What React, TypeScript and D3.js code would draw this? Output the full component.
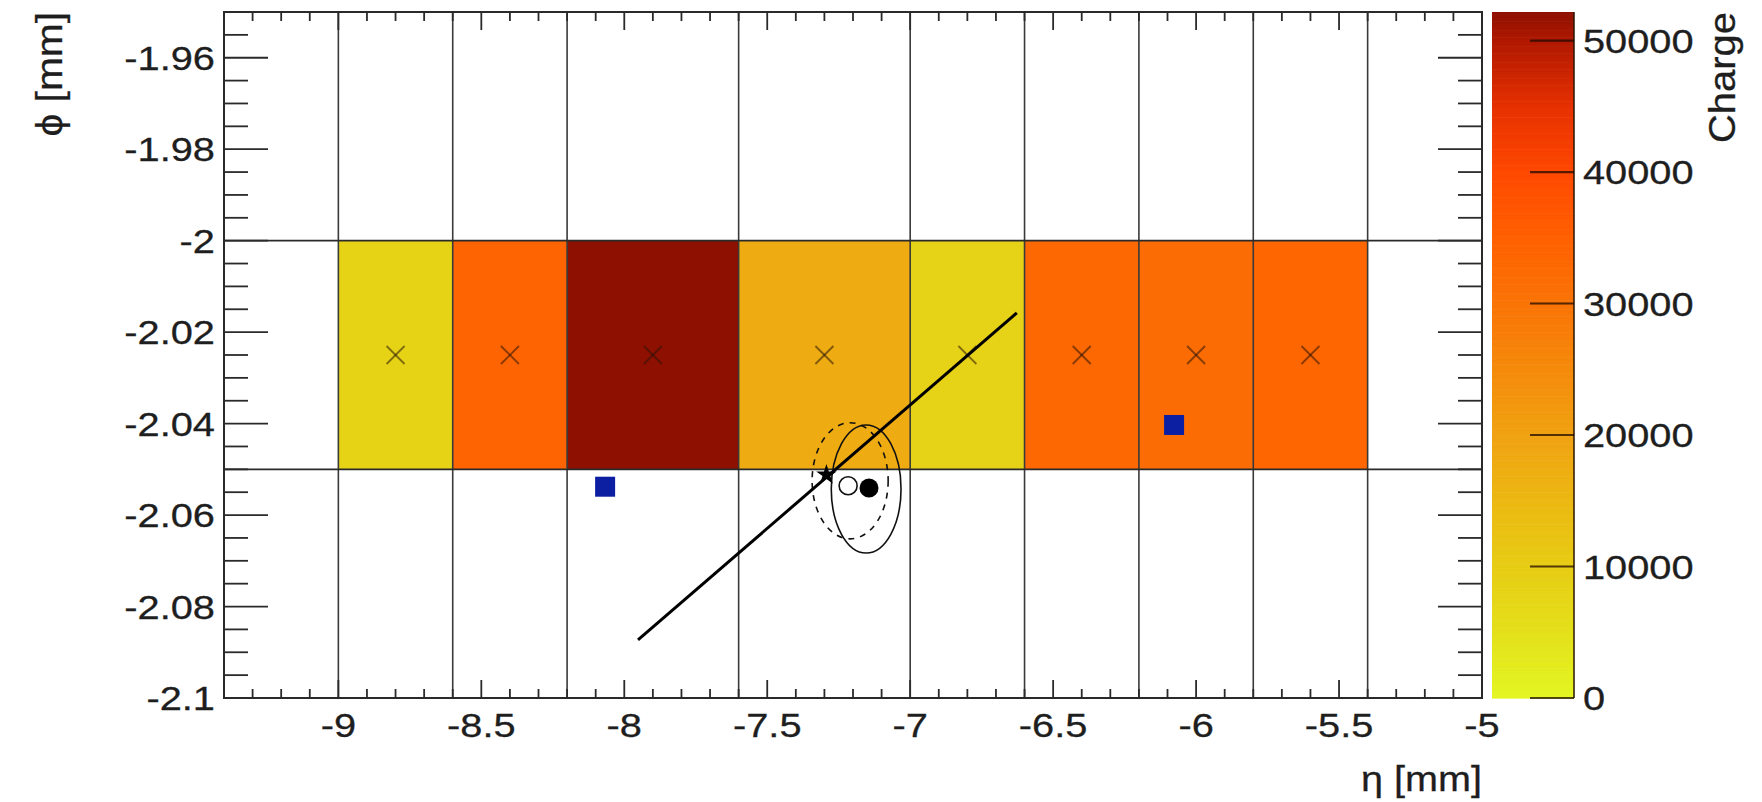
import React from "react";
import * as d3 from "d3";

// Pad boundaries along eta and phi (mm)
const etaEdges = [-9, -8.6, -8.2, -7.6, -7.0, -6.6, -6.2, -5.8, -5.4];
const phiRow = [-2.05, -2.0];
// Charge collected on each pad of the row
const charges = [8200, 34000, 52170, 18000, 8600, 33000, 32000, 33500];

// Reconstructed track segment
const trackEta = [-7.952, -6.627];
const trackPhi = [-2.0873, -2.0158];
// Track crossing point
const crossing = { eta: -7.293, phi: -2.0512 };
// Cluster position estimates with their uncertainty ellipses
const hollowPoint = { eta: -7.217, phi: -2.0536 };
const filledPoint = { eta: -7.144, phi: -2.0541 };
const dashedEllipse = { eta: -7.21, phi: -2.0525, rEta: 0.133, rPhi: 0.0127 };
const solidEllipse = { eta: -7.154, phi: -2.0543, rEta: 0.122, rPhi: 0.014 };
// Neighbouring hits
const blueHits = [
  { eta: -8.067, phi: -2.0538 },
  { eta: -6.077, phi: -2.0403 },
];

const xTickLabels = ["-9", "-8.5", "-8", "-7.5", "-7", "-6.5", "-6", "-5.5", "-5"];
const yTickLabels = ["-2.1", "-2.08", "-2.06", "-2.04", "-2.02", "-2", "-1.98", "-1.96"];
const zTickLabels = ["0", "10000", "20000", "30000", "40000", "50000"];

// Palette stops (charge -> colour)
const paletteCharge = [0, 5000, 10000, 15000, 20000, 25000, 30000, 35000, 40000, 45000, 50000, 52170];
const paletteColor = [
  "#e3f622", "#e4e01a", "#e7cc14", "#ecb812", "#f0a212", "#f58a0a",
  "#fa7406", "#ff6000", "#ff4800", "#e63000", "#b01800", "#8e1000",
];

const W = 1762;
const H = 802;
const frame = { left: 224, right: 1482, top: 12, bottom: 698 };
const bar = { left: 1492, right: 1574 };
const FONT = "'Liberation Sans', Arial, Helvetica, sans-serif";
const SX = 1.17;
const AX = "#2a2a2a";

function Label(props: {
  x: number; y: number; size: number; anchor?: string; rotate?: number; sx?: number; children: React.ReactNode;
}) {
  const { x, y, size, anchor = "middle", rotate = 0, sx = SX, children } = props;
  return (
    <text
      transform={`translate(${x},${y}) rotate(${rotate}) scale(${sx},1)`}
      textAnchor={anchor}
      fontFamily={FONT}
      fontSize={size}
      fill="#1e1e1e"
      stroke="#1e1e1e"
      strokeWidth={0.3}
    >
      {children}
    </text>
  );
}

export default function App() {
  const x = d3.scaleLinear().domain([-9.4, -5]).range([frame.left, frame.right]);
  const y = d3.scaleLinear().domain([-2.1, -1.95]).range([frame.bottom, frame.top]);
  const cmax = d3.max(charges) as number;
  const z = d3.scaleLinear().domain([0, cmax]).range([frame.bottom, frame.top]);
  const color = d3.scaleLinear<string>().domain(paletteCharge).range(paletteColor).interpolate(d3.interpolateRgb).clamp(true);

  const cells = charges.map((c, i) => ({ x0: etaEdges[i], x1: etaEdges[i + 1], c }));

  const xMinor = d3.range(-94, -49, 1).map((v) => v / 10);
  const xMajor = xTickLabels.map(Number);
  const yMinor = d3.range(-420, -389, 1).map((v) => v / 200);
  const yMajor = yTickLabels.map(Number);
  const zMajor = zTickLabels.map(Number);

  // colour bar bands
  const nBands = 300;
  const bands = d3.range(nBands).map((i) => ({
    v0: (i / nBands) * cmax,
    v1: ((i + 1) / nBands) * cmax,
  }));

  const line = d3.line<[number, number]>().x((d) => x(d[0])).y((d) => y(d[1]));
  const trackPts: [number, number][] = trackEta.map((e, i) => [e, trackPhi[i]]);
  const star = d3.symbol().type(d3.symbolStar).size(130)();
  const ymid = (phiRow[0] + phiRow[1]) / 2;

  return (
    <svg width={W} height={H} style={{ position: "absolute", left: 0, top: 0, background: "#fff" }}>
      <rect x={0} y={0} width={W} height={H} fill="#fff" />

      {/* pads */}
      {cells.map((d, i) => (
        <rect
          key={i}
          x={x(d.x0)}
          y={y(phiRow[1])}
          width={x(d.x1) - x(d.x0)}
          height={y(phiRow[0]) - y(phiRow[1])}
          fill={color(d.c)}
        />
      ))}

      {/* pad grid */}
      {etaEdges.map((e, i) => (
        <line key={i} x1={x(e)} x2={x(e)} y1={frame.top} y2={frame.bottom} stroke="#3a3a3a" strokeWidth={1.6} />
      ))}
      {phiRow.map((p, i) => (
        <line key={i} x1={frame.left} x2={frame.right} y1={y(p)} y2={y(p)} stroke="#2a2a2a" strokeWidth={1.8} />
      ))}

      {/* pad centre markers */}
      {cells.map((d, i) => {
        const cx = x((d.x0 + d.x1) / 2);
        const cy = y(ymid);
        const s = 9;
        return (
          <g key={i} stroke="rgba(40,20,10,0.55)" strokeWidth={1.8}>
            <line x1={cx - s} y1={cy - s} x2={cx + s} y2={cy + s} />
            <line x1={cx - s} y1={cy + s} x2={cx + s} y2={cy - s} />
          </g>
        );
      })}

      {/* neighbouring hits */}
      {blueHits.map((h, i) => (
        <rect key={i} x={x(h.eta) - 10} y={y(h.phi) - 10} width={20} height={20} fill="#0c1fa3" />
      ))}

      {/* uncertainty ellipses */}
      <ellipse
        cx={x(dashedEllipse.eta)}
        cy={y(dashedEllipse.phi)}
        rx={x(dashedEllipse.eta + dashedEllipse.rEta) - x(dashedEllipse.eta)}
        ry={y(dashedEllipse.phi) - y(dashedEllipse.phi + dashedEllipse.rPhi)}
        fill="none"
        stroke="#111"
        strokeWidth={1.6}
        strokeDasharray="6,6"
      />
      <ellipse
        cx={x(solidEllipse.eta)}
        cy={y(solidEllipse.phi)}
        rx={x(solidEllipse.eta + solidEllipse.rEta) - x(solidEllipse.eta)}
        ry={y(solidEllipse.phi) - y(solidEllipse.phi + solidEllipse.rPhi)}
        fill="none"
        stroke="#111"
        strokeWidth={1.6}
      />

      {/* track */}
      <path d={line(trackPts) || ""} fill="none" stroke="#000" strokeWidth={3} />
      <path d={star || ""} transform={`translate(${x(crossing.eta)},${y(crossing.phi)})`} fill="#000" />
      <circle cx={x(hollowPoint.eta)} cy={y(hollowPoint.phi)} r={9} fill="#fff" stroke="#111" strokeWidth={1.6} />
      <circle cx={x(filledPoint.eta)} cy={y(filledPoint.phi)} r={9.5} fill="#000" />

      {/* frame */}
      <rect
        x={frame.left}
        y={frame.top}
        width={frame.right - frame.left}
        height={frame.bottom - frame.top}
        fill="none"
        stroke={AX}
        strokeWidth={2}
      />

      {/* x ticks (bottom and top) */}
      {xMinor.map((v, i) => {
        const major = xMajor.some((m) => Math.abs(m - v) < 1e-6);
        const len = major ? 18 : 9;
        return (
          <g key={i} stroke={AX} strokeWidth={1.8}>
            <line x1={x(v)} x2={x(v)} y1={frame.bottom} y2={frame.bottom - len} />
            <line x1={x(v)} x2={x(v)} y1={frame.top} y2={frame.top + len} />
          </g>
        );
      })}
      {xTickLabels.map((t, i) => (
        <Label key={i} x={x(xMajor[i])} y={737} size={34}>{t}</Label>
      ))}

      {/* y ticks (left and right) */}
      {yMinor.map((v, i) => {
        const major = yMajor.some((m) => Math.abs(m - v) < 1e-6);
        const len = major ? 44 : 24;
        return (
          <g key={i} stroke={AX} strokeWidth={1.8}>
            <line x1={frame.left} x2={frame.left + len} y1={y(v)} y2={y(v)} />
            <line x1={frame.right} x2={frame.right - len} y1={y(v)} y2={y(v)} />
          </g>
        );
      })}
      {yTickLabels.map((t, i) => (
        <Label key={i} x={215} y={y(yMajor[i]) + 12} size={34} anchor="end">{t}</Label>
      ))}

      {/* axis titles */}
      <Label x={frame.right} y={791} size={36} anchor="end" sx={1.1}>η [mm]</Label>
      <Label x={62} y={frame.top} size={37} anchor="end" rotate={-90} sx={1.1}>ϕ [mm]</Label>

      {/* colour bar */}
      {bands.map((b, i) => (
        <rect
          key={i}
          x={bar.left}
          y={z(b.v1)}
          width={bar.right - bar.left}
          height={z(b.v0) - z(b.v1) + 0.6}
          fill={color((b.v0 + b.v1) / 2)}
        />
      ))}
      <line x1={bar.right} x2={bar.right} y1={frame.top} y2={frame.bottom} stroke="rgba(40,20,0,0.75)" strokeWidth={2} />
      {zMajor.map((v, i) => (
        <line key={i} x1={bar.right - 44} x2={bar.right} y1={z(v)} y2={z(v)} stroke="rgba(30,10,0,0.75)" strokeWidth={2.2} />
      ))}
      {zTickLabels.map((t, i) => (
        <Label key={i} x={1583} y={z(zMajor[i]) + 12} size={34} anchor="start">{t}</Label>
      ))}
      <Label x={1735} y={frame.top} size={37} anchor="end" rotate={-90} sx={1.08}>Charge</Label>
    </svg>
  );
}
